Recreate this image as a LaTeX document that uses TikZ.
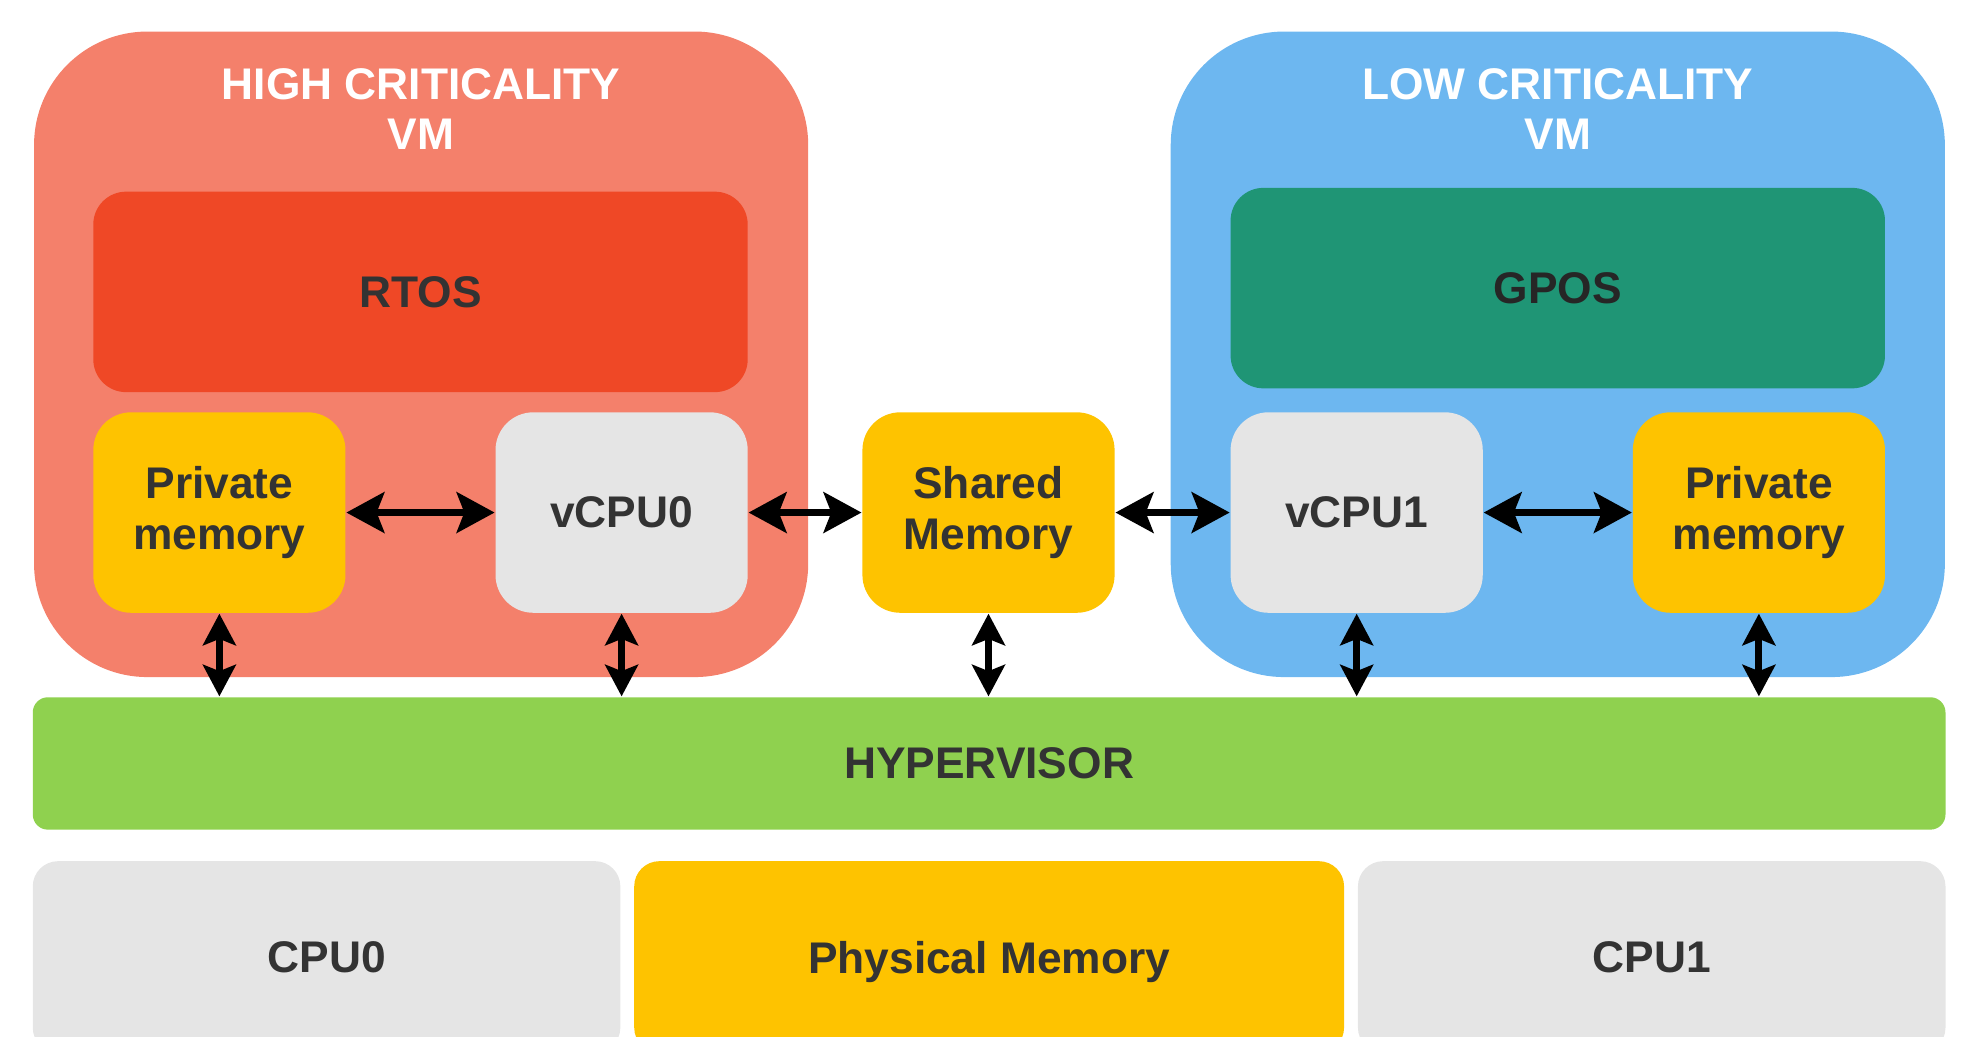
\documentclass[tikz,border=0pt]{standalone}
\usepackage{fontspec}
\setmainfont{Liberation Sans}
\usetikzlibrary{arrows.meta,positioning}

\definecolor{hivm}{HTML}{F4806B}
\definecolor{lovm}{HTML}{6DB7F0}
\definecolor{rtos}{HTML}{EF4826}
\definecolor{gpos}{HTML}{1F9575}
\definecolor{memyel}{HTML}{FEC300}
\definecolor{cpugray}{HTML}{E5E5E5}
\definecolor{hyper}{HTML}{8FD14F}
\definecolor{txtgray}{HTML}{333333}

\begin{document}
\begin{tikzpicture}[
    font=\bfseries\fontsize{10}{11.3}\selectfont,
    box/.style={rounded corners=0.3cm, inner sep=0pt, align=center, text=txtgray,
                minimum width=2cm, minimum height=1.59cm},
    vmbox/.style={rounded corners=0.9cm, inner sep=0pt, minimum width=6.14cm, minimum height=5.12cm},
    link/.style={{Stealth[length=3mm,width=3.2mm,inset=0.6mm]}-{Stealth[length=3mm,width=3.2mm,inset=0.6mm]},
                 line width=1.7pt},
    vlink/.style={{Stealth[length=2.5mm,width=2.6mm,inset=0.5mm]}-{Stealth[length=2.5mm,width=2.6mm,inset=0.5mm]},
                 line width=1.6pt}
  ]
  \useasboundingbox (0,0) rectangle (15.68,-8.22);
  \clip (0,0) rectangle (15.68,-8.22);

  % the two virtual machines
  \node[vmbox, fill=hivm] (HVM) at (3.34,-2.81) {};
  \node[vmbox, fill=lovm] (LVM) at (12.355,-2.81) {};
  \node[align=center, text=white] (HT) at (3.34,-0.865) {HIGH CRITICALITY\\VM};
  \node[align=center, text=white] (LT) at (12.355,-0.865) {LOW CRITICALITY\\VM};

  % guest operating systems
  \node[box, fill=rtos, rounded corners=0.26cm, minimum width=5.19cm] (RT) at (3.335,-2.315) {RTOS};
  \node[box, fill=gpos, text=black!85, rounded corners=0.26cm, minimum width=5.19cm] (GP) at (12.355,-2.285) {GPOS};

  % memories and virtual cpus
  \node[box, fill=memyel] (PM0) at (1.74,-4.065) {Private\\memory};
  \node[box, fill=cpugray] (V0) at (4.93,-4.065) {vCPU0};
  \node[box, fill=memyel] (SM) at (7.84,-4.065) {Shared\\Memory};
  \node[box, fill=cpugray] (V1) at (10.76,-4.065) {vCPU1};
  \node[box, fill=memyel] (PM1) at (13.95,-4.065) {Private\\memory};

  % hypervisor and hardware
  \node[box, fill=hyper, rounded corners=0.12cm, minimum width=15.17cm, minimum height=1.05cm] (HY) at (7.845,-6.055) {HYPERVISOR};
  \node[box, fill=cpugray, rounded corners=0.2cm, minimum width=4.66cm, minimum height=1.52cm] (C0) at (2.59,-7.59) {CPU0};
  \node[box, fill=memyel, rounded corners=0.2cm, minimum width=5.63cm, minimum height=1.52cm, text depth=0pt] (PH) at (7.845,-7.59) {Physical Memory};
  \node[box, fill=cpugray, rounded corners=0.2cm, minimum width=4.66cm, minimum height=1.52cm] (C1) at (13.10,-7.59) {CPU1};

  \draw[link] (PM0) -- (V0);
  \draw[link] (V0) -- (SM);
  \draw[link] (SM) -- (V1);
  \draw[link] (V1) -- (PM1);

  \foreach \n in {PM0,V0,SM,V1,PM1}
    \draw[vlink] (\n.south) -- (\n.south |- HY.north);
\end{tikzpicture}
\end{document}
